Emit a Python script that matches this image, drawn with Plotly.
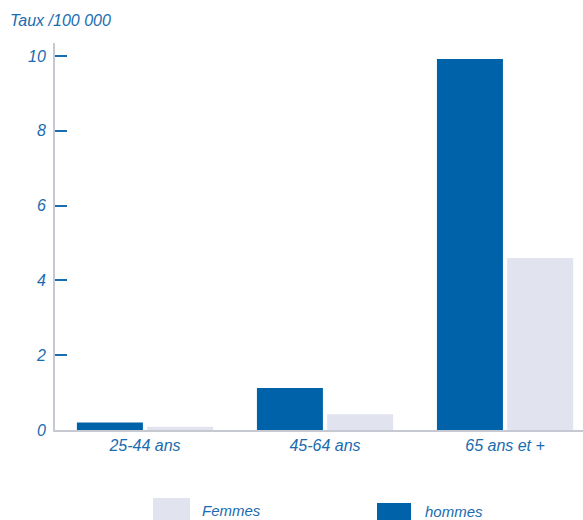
import plotly.graph_objects as go

categories = ["25-44 ans", "45-64 ans", "65 ans et +"]
hommes = [0.2, 1.12, 9.92]
femmes = [0.09, 0.42, 4.6]
y_ticks = [0, 2, 4, 6, 8, 10]

BLUE = "#0062a8"
LIGHT = "#e1e4ef"
TEXT = "#1a6cb0"
AXIS = "#c6c8d2"
FONT = "Liberation Sans"

fig = go.Figure()
fig.add_trace(go.Bar(x=categories, y=hommes, name="hommes", marker=dict(color=BLUE, line=dict(width=0))))
fig.add_trace(go.Bar(x=categories, y=femmes, name="Femmes", marker=dict(color=LIGHT, line=dict(width=0))))

fig.update_layout(
    width=583, height=520,
    margin=dict(l=55, r=0, t=43, b=90),
    paper_bgcolor="white", plot_bgcolor="white",
    barmode="group", bargap=0.22, bargroupgap=0.06,
    showlegend=False,
    font=dict(family=FONT, size=15, color=TEXT),
    xaxis=dict(range=[-0.5, 2.433], showline=True, linecolor=AXIS, linewidth=2,
               ticks="", showgrid=False, zeroline=False,
               tickfont=dict(family=FONT, size=16, color=TEXT, style="italic")),
    yaxis=dict(range=[0, 10.35], tickvals=y_ticks, showline=True, linecolor=AXIS, linewidth=2,
               ticks="inside", ticklen=12, tickcolor=TEXT, tickwidth=1.5,
               showgrid=False, zeroline=False, ticklabelstandoff=4,
               tickfont=dict(family=FONT, size=16, color=TEXT, style="italic")),
)

fig.add_annotation(text="Taux /100 000", xref="paper", yref="paper", x=0, y=1,
                   xshift=-47, yshift=12, xanchor="left", yanchor="bottom",
                   showarrow=False, font=dict(family=FONT, size=16, color=TEXT, style="italic"))

# custom legend
legend_items = [("Femmes", LIGHT, 153, 190, 498, 520, 200, 510),
                ("hommes", BLUE, 377, 411, 503, 525, 423, 511)]
for name, col, x0, x1, y0, y1, tx, ty in legend_items:
    fig.add_shape(type="rect", xref="paper", yref="paper",
                  x0=(x0 - 55) / 528, x1=(x1 - 55) / 528,
                  y0=(430 - y1) / 387, y1=(430 - y0) / 387,
                  fillcolor=col, line=dict(width=0))
    fig.add_annotation(text=name, xref="paper", yref="paper",
                       x=(tx - 55) / 528, y=(430 - ty) / 387,
                       xanchor="left", yanchor="middle", showarrow=False,
                       font=dict(family=FONT, size=15, color=TEXT, style="italic"))

fig.write_html("out.html")
